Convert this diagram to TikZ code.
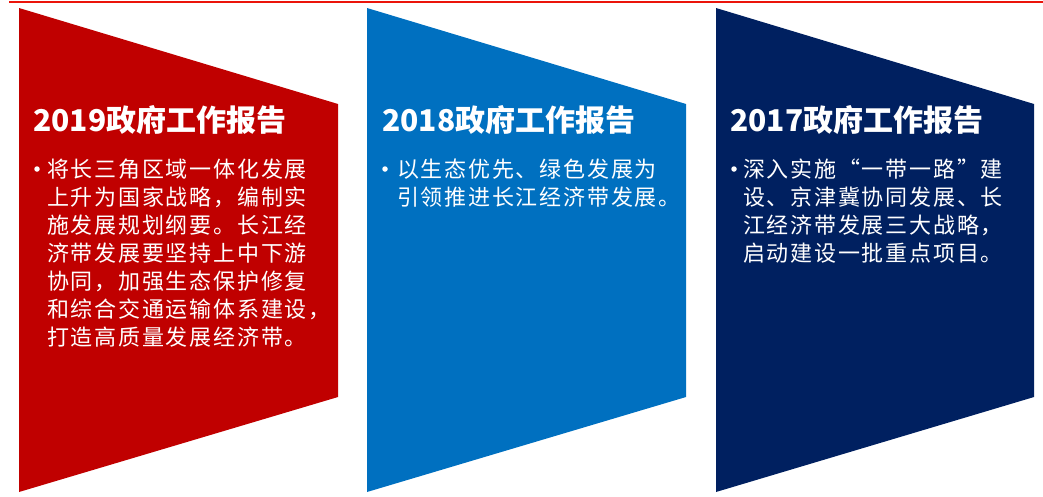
\documentclass[tikz,border=0pt]{standalone}
\usepackage{fontspec}
\setmainfont{Noto Sans CJK SC}
\newfontfamily\bodyfont[LetterSpace=8]{Noto Sans CJK SC}
\usetikzlibrary{positioning}
\definecolor{rptred}{RGB}{192,0,0}
\definecolor{rptblue}{RGB}{0,112,192}
\definecolor{rptnavy}{RGB}{0,32,96}
\definecolor{rptline}{RGB}{235,20,10}
\tikzstyle{paneltitle} = [anchor=base west, inner sep=0pt, text=white, font=\fontsize{30}{30}\selectfont\bfseries]
\tikzstyle{bulletdot} = [circle, fill=white, inner sep=0pt, minimum size=5.5pt]
\tikzstyle{bodytext} = [anchor=north west, inner sep=0pt, text=white, align=left, font=\bodyfont\fontsize{22}{28}\selectfont]

\begin{document}
\begin{tikzpicture}[x=1pt, y=-1pt]
    \useasboundingbox (0,0) rectangle (1043,496);
    % Top rule
    \draw[rptline, line width=2pt] (9,1.5) -- (1043,1.5);

    % Panels
    \fill[rptred] (19,8) -- (338,104) -- (338,397) -- (19,492) -- cycle;
    \fill[rptblue] (367,8) -- (686,104) -- (686,397) -- (367,492) -- cycle;
    \fill[rptnavy] (716,8) -- (1034,104) -- (1034,397) -- (716,492) -- cycle;

    % Nodes
    \node[paneltitle] (title19) at (33,131) {2019政府工作报告};
    \node[bulletdot] (dot19) at (37,169) {};
    \node[bodytext] (body19) at (47,159) {将长三角区域一体化发展\\上升为国家战略，编制实\\施发展规划纲要。长江经\\济带发展要坚持上中下游\\协同，加强生态保护修复\\和综合交通运输体系建设，\\打造高质量发展经济带。};

    \node[paneltitle] (title18) at (382,131) {2018政府工作报告};
    \node[bulletdot] (dot18) at (385,169) {};
    \node[bodytext] (body18) at (397,159) {以生态优先、绿色发展为\\引领推进长江经济带发展。};

    \node[paneltitle] (title17) at (730,131) {2017政府工作报告};
    \node[bulletdot] (dot17) at (734,169) {};
    \node[bodytext] (body17) at (743,159) {深入实施“一带一路”建\\设、京津冀协同发展、长\\江经济带发展三大战略，\\启动建设一批重点项目。};
\end{tikzpicture}
\end{document}
